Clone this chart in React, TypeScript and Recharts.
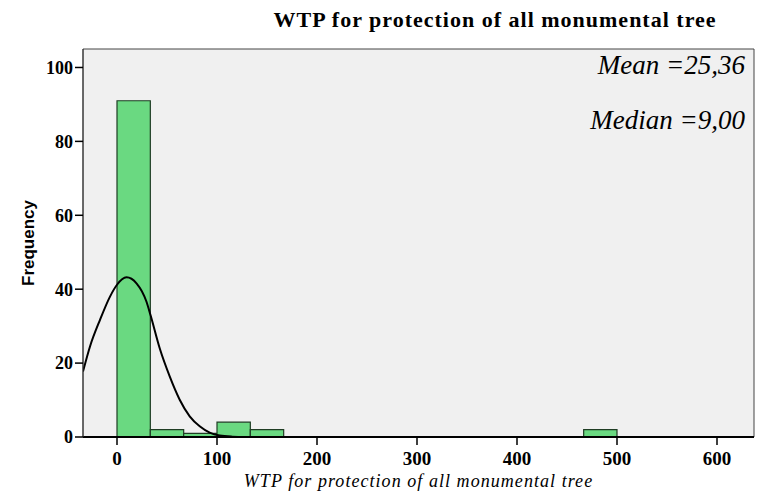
import { ComposedChart, Line, XAxis, YAxis, ReferenceArea } from 'recharts';

// histogram bins (bin width = 100/3)
const binStarts = [0, 33.33, 66.67, 100, 133.33, 466.67];
const binEnds = [33.33, 66.67, 100, 133.33, 166.67, 500];
const binCounts = [91, 2, 1, 4, 2, 2];

// fitted normal curve
const curveX = [-34, -27, -17, -7, 0, 9.5, 19.5, 29.5, 33.5, 42.7, 52.7, 62.7, 72.7, 82.7, 92.7, 102.7, 115, 130];
const curveY = [17.7, 24.5, 31.7, 38, 41.2, 43.2, 41.6, 36.6, 33, 24, 16.4, 10.1, 5.6, 2.9, 1.2, 0.4, 0.1, 0];

const xTicks = [0, 100, 200, 300, 400, 500, 600];
const yTicks = [0, 20, 40, 60, 80, 100];

const curveData = curveX.map((x, i) => ({ x, y: curveY[i] }));

const serif = 'Liberation Serif, Times New Roman, serif';

export default function App() {
    return (
        <div style={{ position: 'absolute', left: 0, top: 0, width: 757, height: 491, background: '#fff' }}>
            <div style={{
                position: 'absolute', left: 240, width: 510, top: 7, textAlign: 'center',
                fontFamily: serif, fontWeight: 'bold', fontSize: 22, letterSpacing: 1.0, whiteSpace: 'nowrap'
            }}>
                WTP for protection of all monumental tree
            </div>

            <ComposedChart width={757} height={491} margin={{ top: 49, right: 3, left: 0, bottom: 0 }}>
                <XAxis
                    dataKey="x"
                    type="number"
                    domain={[-34, 637]}
                    ticks={xTicks}
                    allowDataOverflow
                    height={54}
                    tickSize={8}
                    tickMargin={7}
                    axisLine={{ stroke: '#000', strokeWidth: 2 }}
                    tickLine={{ stroke: '#000', strokeWidth: 1.5 }}
                    tick={{ fontFamily: serif, fontWeight: 'bold', fontSize: 19, fill: '#000' }}
                    label={{ value: 'WTP for protection of all monumental tree', position: 'insideBottom', offset: 4,
                        style: { fontFamily: serif, fontStyle: 'italic', fontSize: 18, letterSpacing: 1.05, fill: '#000' } }}
                />
                <YAxis
                    type="number"
                    domain={[0, 105]}
                    ticks={yTicks}
                    allowDataOverflow
                    width={83}
                    tickSize={8}
                    axisLine={{ stroke: '#333', strokeWidth: 1 }}
                    tickLine={{ stroke: '#000', strokeWidth: 1.5 }}
                    tick={{ fontFamily: serif, fontWeight: 'bold', fontSize: 18, fill: '#000' }}
                    label={{ value: 'Frequency', angle: -90, position: 'insideLeft', offset: 28,
                        style: { fontFamily: 'Liberation Sans, Arial, sans-serif', fontWeight: 'bold', fontSize: 17, fill: '#000', textAnchor: 'middle' } }}
                />

                <ReferenceArea x1={-34} x2={637} y1={0} y2={105} fill="#f0f0f0" fillOpacity={1} stroke="#444" strokeWidth={1} />

                {binCounts.map((c, i) => (
                    <ReferenceArea
                        key={`bin-${i}`}
                        x1={binStarts[i]}
                        x2={binEnds[i]}
                        y1={0}
                        y2={c}
                        fill="#6ad981"
                        fillOpacity={1}
                        stroke="#1f3d24"
                        strokeWidth={1.2}
                    />
                ))}

                <Line
                    data={curveData}
                    dataKey="y"
                    type="monotone"
                    stroke="#000"
                    strokeWidth={2}
                    dot={false}
                    activeDot={false}
                    isAnimationActive={false}
                />
            </ComposedChart>

            <div style={{ position: 'absolute', right: 12, top: 50, fontFamily: serif, fontStyle: 'italic', fontSize: 27, whiteSpace: 'nowrap' }}>
                Mean =25,36
            </div>
            <div style={{ position: 'absolute', right: 12, top: 105, fontFamily: serif, fontStyle: 'italic', fontSize: 27, whiteSpace: 'nowrap' }}>
                Median =9,00
            </div>
        </div>
    );
}
